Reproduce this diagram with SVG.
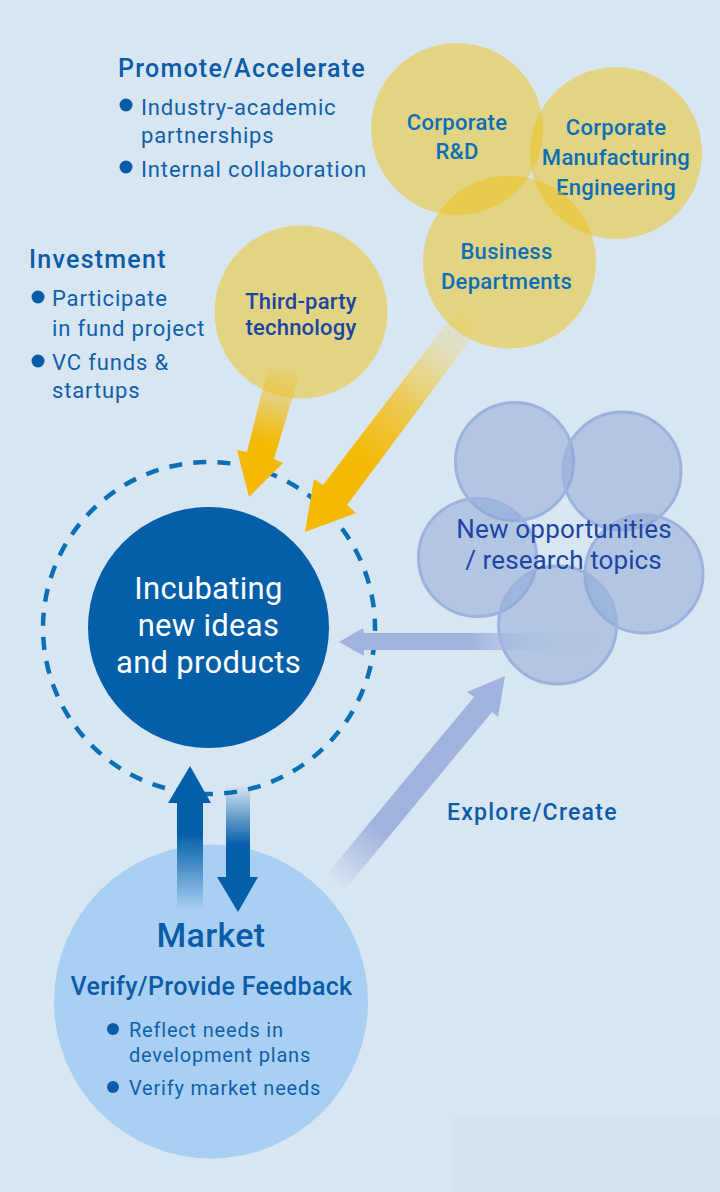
<svg xmlns="http://www.w3.org/2000/svg" width="720" height="1192" viewBox="0 0 720 1192">
<style>
text{font-family:Roboto,"Liberation Sans",sans-serif}
.y{fill:#eec215;opacity:.5}
.b{fill:#8ca5d5;fill-opacity:.5;stroke:#9cb1de;stroke-width:3}
.h{font-size:25px;font-weight:500;fill:#0a5ca8;letter-spacing:1.25px}
.t{font-size:22px;fill:#0f60aa;letter-spacing:.85px}
.s{font-size:20px;fill:#0f60aa;letter-spacing:.8px}
.c{font-size:22px;font-weight:500;fill:#0a6fb8;text-anchor:middle;letter-spacing:.3px}
.d{font-size:22px;font-weight:500;fill:#1c45a3;text-anchor:middle;letter-spacing:.2px}
.n{font-size:26px;fill:#1c45a3;text-anchor:middle;letter-spacing:.2px}
.w{font-size:31px;fill:#fff;text-anchor:middle;letter-spacing:.3px}
.dot{fill:#0a5ca8}
</style>
<defs>
<linearGradient id="g1" gradientUnits="userSpaceOnUse" x1="284" y1="368" x2="262" y2="455"><stop offset="0" stop-color="#f3b905" stop-opacity=".05"/><stop offset=".35" stop-color="#f3b905" stop-opacity=".5"/><stop offset=".85" stop-color="#f3b905"/></linearGradient>
<linearGradient id="g2" gradientUnits="userSpaceOnUse" x1="474" y1="311" x2="335" y2="495"><stop offset="0" stop-color="#f3c020" stop-opacity=".05"/><stop offset=".2" stop-color="#f3cc4a" stop-opacity=".3"/><stop offset=".5" stop-color="#f3c020" stop-opacity=".75"/><stop offset=".8" stop-color="#f3b905"/></linearGradient>
<linearGradient id="g3" gradientUnits="userSpaceOnUse" x1="600" y1="0" x2="364" y2="0"><stop offset="0" stop-color="#a0b3de" stop-opacity="0"/><stop offset=".3" stop-color="#a0b3de" stop-opacity=".25"/><stop offset=".55" stop-color="#a0b3de"/></linearGradient>
<linearGradient id="g4" gradientUnits="userSpaceOnUse" x1="334" y1="884" x2="483" y2="705"><stop offset="0" stop-color="#a0b3de" stop-opacity="0"/><stop offset=".3" stop-color="#a0b3de"/></linearGradient>
<linearGradient id="g5" gradientUnits="userSpaceOnUse" x1="0" y1="910" x2="0" y2="803"><stop offset="0" stop-color="#045fa8" stop-opacity="0"/><stop offset=".7" stop-color="#045fa8"/></linearGradient>
<linearGradient id="g6" gradientUnits="userSpaceOnUse" x1="0" y1="785" x2="0" y2="877"><stop offset="0" stop-color="#045fa8" stop-opacity="0"/><stop offset=".65" stop-color="#045fa8"/></linearGradient>
</defs>
<rect width="720" height="1192" fill="#d8e6f1"/>
<rect x="452" y="1117" width="268" height="75" fill="#d3e3f0"/>
<g id="market"><circle cx="211" cy="1001.5" r="157" fill="#a9d0f2"/>
<text class="h" x="211" y="947" text-anchor="middle" style="font-size:34px;letter-spacing:.3px">Market</text>
<text class="h" x="211.500" y="994.500" text-anchor="middle" style="letter-spacing:.35px">Verify/Provide Feedback</text>
<circle class="dot" cx="113" cy="1029" r="6"/><text class="s" x="129" y="1037">Reflect needs in</text><text class="s" x="129" y="1062">development plans</text>
<circle class="dot" cx="113" cy="1087" r="6"/><text class="s" x="129" y="1095">Verify market needs</text></g>
<g id="promote"><text class="h" x="118" y="77">Promote/Accelerate</text>
<circle class="dot" cx="126" cy="105" r="6.5"/><text class="t" x="141" y="114.500">Industry-academic</text><text class="t" x="141" y="142.500">partnerships</text>
<circle class="dot" cx="126" cy="167" r="6.5"/><text class="t" x="141" y="177">Internal collaboration</text></g>
<g id="investment"><text class="h" x="29" y="268">Investment</text>
<circle class="dot" cx="38" cy="297" r="6.5"/><text class="t" x="52" y="306">Participate</text><text class="t" x="52" y="336">in fund project</text>
<circle class="dot" cx="38" cy="361" r="6.5"/><text class="t" x="52" y="370">VC funds &amp;</text><text class="t" x="52" y="397.500">startups</text></g>
<g id="rd"><circle class="y" cx="457" cy="129" r="86"/><text class="c" x="457" y="130">Corporate</text><text class="c" x="457" y="159">R&amp;D</text></g>
<g id="mfg"><circle class="y" cx="616" cy="153" r="86"/><text class="c" x="616" y="135">Corporate</text><text class="c" x="616" y="165">Manufacturing</text><text class="c" x="616" y="195">Engineering</text></g>
<g id="business"><circle class="y" cx="509.5" cy="262" r="86.5"/><text class="c" x="506.500" y="259">Business</text><text class="c" x="506.500" y="289">Departments</text></g>
<g id="third-party"><circle class="y" cx="301" cy="312" r="86.5"/><text class="d" x="301" y="309">Third-party</text><text class="d" x="301" y="335">technology</text></g>
<g id="opportunities"><circle class="b" cx="514.5" cy="461.5" r="59"/><circle class="b" cx="622" cy="471" r="59"/><circle class="b" cx="477.5" cy="557.5" r="59"/><circle class="b" cx="644" cy="574" r="59"/><circle class="b" cx="557.5" cy="625" r="59"/>
<text class="n" x="564" y="538">New opportunities</text><text class="n" x="563.500" y="569" style="letter-spacing:.1px">/ research topics</text></g>
<g id="incubating"><circle cx="209" cy="628" r="166" fill="none" stroke="#0a6fb4" stroke-width="4.500" stroke-dasharray="13 11.26" stroke-dashoffset="-14.14"/><circle cx="208.500" cy="627.500" r="120.500" fill="#045fa8"/>
<text class="w" x="208.500" y="599">Incubating</text><text class="w" x="208.500" y="636">new ideas</text><text class="w" x="208.500" y="673">and products</text></g>
<g id="connectors">
<polygon fill="url(#g1)" points="268,368 300,372 274,459 283,463 249,497 237,450 247,452"/>
<polygon fill="url(#g2)" points="463,302 485,320 347,505 356,513 305,532 314,479 323,485"/>
<polygon fill="url(#g3)" points="600,633 364,633 363,628 339,642 364,656 364,650 600,650"/>
<polygon fill="url(#g4)" points="326,875 474,697 467,692 505,676 498,717 492,712 343,892"/>
<polygon fill="url(#g5)" points="177,910 177,803 168,803 190,766 211,803 203,803 203,910"/>
<polygon fill="url(#g6)" points="226,785 250,785 250,877 258,877 238,912 217,877 226,877"/>
</g>
<text class="h" x="447" y="820" style="font-size:23px">Explore/Create</text>
</svg>
